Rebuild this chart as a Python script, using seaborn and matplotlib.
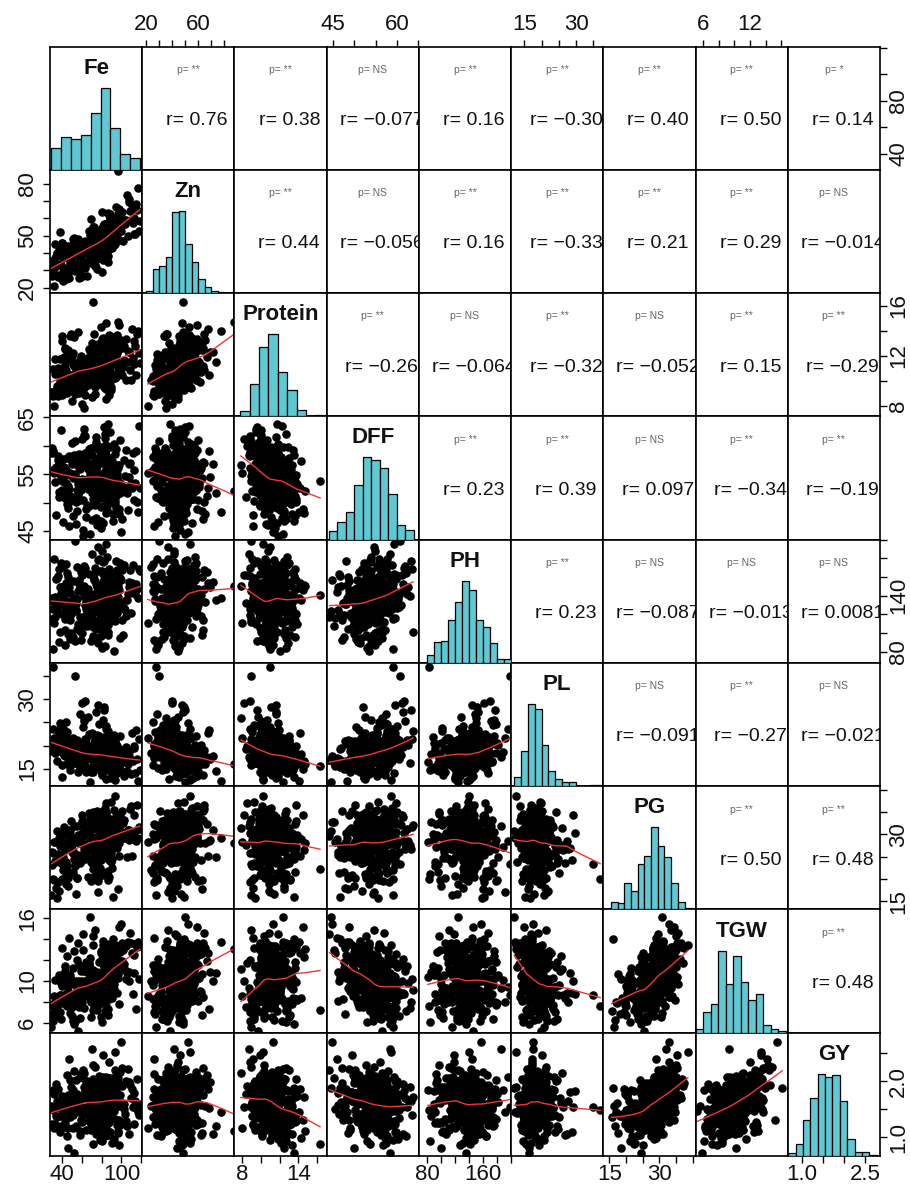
import numpy as np
import pandas as pd
import matplotlib
matplotlib.use("Agg")
import matplotlib.pyplot as plt
import seaborn as sns

plt.rcParams["font.family"] = ["Liberation Sans", "DejaVu Sans"]

# ---------------------------------------------------------------- data
names = ["Fe", "Zn", "Protein", "DFF", "PH", "PL", "PG", "TGW", "GY"]
N_OBS = 300

# histogram bar counts
fe_counts = [20, 30, 28, 32, 51, 75, 38, 14, 11]
zn_counts = [2, 20, 23, 30, 68, 69, 41, 26, 12, 5, 2, 1, 0, 1]
protein_counts = [6, 36, 78, 92, 50, 30, 7, 0, 1]
dff_counts = [6, 13, 20, 40, 60, 58, 52, 33, 11, 7]
ph_counts = [6, 15, 16, 31, 44, 59, 52, 31, 26, 14, 3, 3]
pl_counts = [10, 38, 89, 84, 45, 16, 8, 4, 4, 0, 0, 1, 1]
pg_counts = [6, 5, 20, 14, 35, 41, 63, 49, 40, 20, 6, 1]
tgw_counts = [3, 16, 22, 62, 37, 58, 38, 25, 29, 6, 3, 1]
gy_counts = [2, 8, 25, 40, 57, 55, 56, 38, 12, 3, 3, 1]
hist_counts = [fe_counts, zn_counts, protein_counts, dff_counts, ph_counts,
               pl_counts, pg_counts, tgw_counts, gy_counts]
bin_start = [29, 20, 7.8, 44, 80, 12, 15.5, 5.1, 0.68]
bin_width = [10, 5, 1.0, 2, 10, 2, 2, 0.96, 0.175]

# correlation texts in the upper panels (row by row)
r_fe = ["0.76", "0.38", "-0.077", "0.16", "-0.30", "0.40", "0.50", "0.14"]
r_zn = ["0.44", "-0.056", "0.16", "-0.33", "0.21", "0.29", "-0.014"]
r_protein = ["-0.26", "-0.064", "-0.32", "-0.052", "0.15", "-0.29"]
r_dff = ["0.23", "0.39", "0.097", "-0.34", "-0.19"]
r_ph = ["0.23", "-0.087", "-0.013", "0.0081"]
r_pl = ["-0.091", "-0.27", "-0.021"]
r_pg = ["0.50", "0.48"]
r_tgw = ["0.48"]
r_rows = [r_fe, r_zn, r_protein, r_dff, r_ph, r_pl, r_pg, r_tgw]

p_fe = ["**", "**", "NS", "**", "**", "**", "**", "*"]
p_zn = ["**", "NS", "**", "**", "**", "**", "NS"]
p_protein = ["**", "NS", "**", "NS", "**", "**"]
p_dff = ["**", "**", "NS", "**", "**"]
p_ph = ["**", "NS", "NS", "NS"]
p_pl = ["NS", "**", "NS"]
p_pg = ["**", "**"]
p_tgw = ["**"]
p_rows = [p_fe, p_zn, p_protein, p_dff, p_ph, p_pl, p_pg, p_tgw]

# axis ranges and ticks
axis_lo = [28, 17, 7.2, 43.5, 68, 11.2, 13.2, 5.05, 0.67]
axis_hi = [121, 88, 17.0, 65.2, 200, 37.9, 40.8, 16.85, 2.86]

fe_ticks = [40, 60, 80, 100, 120]
zn_ticks = [20, 30, 40, 50, 60, 70, 80]
protein_ticks = [8, 10, 12, 14, 16]
dff_ticks = [45, 50, 55, 60, 65]
ph_ticks = [80, 100, 120, 140, 160, 180, 200]
pl_ticks = [15, 20, 25, 30, 35]
pg_ticks = [15, 20, 25, 30, 35, 40]
tgw_ticks = [6, 8, 10, 12, 14, 16]
gy_ticks = [1.0, 1.5, 2.0, 2.5]
tick_vals = [fe_ticks, zn_ticks, protein_ticks, dff_ticks, ph_ticks,
             pl_ticks, pg_ticks, tgw_ticks, gy_ticks]

fe_xlab = ["40", "", "", "100", ""]
zn_xlab = ["20", "", "", "", "60", "", ""]
protein_xlab = ["8", "", "", "14", ""]
dff_xlab = ["45", "", "", "60", ""]
ph_xlab = ["80", "", "", "", "160", "", ""]
pl_xlab = ["15", "", "", "30", ""]
pg_xlab = ["15", "", "", "30", "", ""]
tgw_xlab = ["6", "", "", "12", "", ""]
gy_xlab = ["1.0", "", "", "2.5"]
x_labels = [fe_xlab, zn_xlab, protein_xlab, dff_xlab, ph_xlab,
            pl_xlab, pg_xlab, tgw_xlab, gy_xlab]

fe_ylab = ["40", "", "80", "", ""]
zn_ylab = ["20", "", "", "50", "", "", "80"]
protein_ylab = ["8", "", "12", "", "16"]
dff_ylab = ["45", "", "55", "", "65"]
ph_ylab = ["80", "", "", "140", "", "", ""]
pl_ylab = ["15", "", "", "30", ""]
pg_ylab = ["15", "", "", "30", "", ""]
tgw_ylab = ["6", "", "10", "", "", "16"]
gy_ylab = ["1.0", "", "2.0", ""]
y_labels = [fe_ylab, zn_ylab, protein_ylab, dff_ylab, ph_ylab,
            pl_ylab, pg_ylab, tgw_ylab, gy_ylab]

HIST_COLOR = "#5FC8D3"
LINE_COLOR = "#F03535"

# ------------------------------------------- observation reconstruction
# Individual observations are not legible; rebuild them so that each
# variable has exactly the histogram read above and the pairs follow the
# correlations printed in the upper panels (Gaussian copula).
nv = len(names)
R = np.eye(nv)
for i, row in enumerate(r_rows):
    for k, s in enumerate(row):
        j = i + 1 + k
        R[i, j] = R[j, i] = float(s)
ev, evec = np.linalg.eigh(R)
ev = np.clip(ev, 0.02, None)
R_pd = evec @ np.diag(ev) @ evec.T
dd = np.sqrt(np.diag(R_pd))
R_pd = R_pd / np.outer(dd, dd)

rng = np.random.default_rng(7)
Z = rng.standard_normal((N_OBS, nv))
Z = (Z - Z.mean(0)) / Z.std(0)
Lc = np.linalg.cholesky(np.cov(Z, rowvar=False))
Z = Z @ np.linalg.inv(Lc).T @ np.linalg.cholesky(R_pd).T

cols = {}
bin_edges = []
for k, name in enumerate(names):
    cnt = np.asarray(hist_counts[k], float)
    edges = bin_start[k] + bin_width[k] * np.arange(len(cnt) + 1)
    bin_edges.append(edges)
    cdf = np.concatenate([[0.0], np.cumsum(cnt) / cnt.sum()])
    q = (np.arange(N_OBS) + 0.5) / N_OBS
    sorted_vals = np.interp(q, cdf, edges)
    ranks = np.argsort(np.argsort(Z[:, k], kind="mergesort"), kind="mergesort")
    cols[name] = sorted_vals[ranks]
df = pd.DataFrame(cols)


def lowess(x, y, f=2 / 3, iters=3):
    o = np.argsort(x, kind="mergesort")
    x = np.asarray(x, float)[o]
    y = np.asarray(y, float)[o]
    n = len(x)
    r = int(np.ceil(f * n))
    d = np.abs(x[:, None] - x[None, :])
    h = np.maximum(np.sort(d, axis=1)[:, r - 1], 1e-12)
    w = np.clip(d / h[:, None], 0, 1)
    w = (1 - w ** 3) ** 3
    delta = np.ones(n)
    yest = y.copy()
    for _ in range(iters + 1):
        W = w * delta[None, :]
        s0 = W.sum(1)
        s1 = W @ x
        s2 = W @ (x * x)
        t0 = W @ y
        t1 = W @ (x * y)
        det = s0 * s2 - s1 * s1
        b = np.where(np.abs(det) > 1e-12, (s0 * t1 - s1 * t0) / np.where(det == 0, 1, det), 0.0)
        a = (t0 - b * s1) / s0
        yest = a + b * x
        res = y - yest
        s = np.median(np.abs(res))
        if s <= 0:
            break
        u = np.clip(res / (6 * s), -1, 1)
        delta = (1 - u ** 2) ** 2
    return x, yest


def fmt_r(s):
    return s.replace("-", "\u2212")


# ---------------------------------------------------------------- panels
def lower_panel(x, y, **kws):
    ax = plt.gca()
    sns.scatterplot(x=x.values, y=y.values, ax=ax, s=38, color="black",
                    edgecolor=None, linewidth=0, legend=False)
    lx, ly = lowess(x.values, y.values)
    ax.plot(lx, ly, color=LINE_COLOR, lw=1.0)


def upper_panel(x, y, **kws):
    ax = plt.gca()
    i = names.index(y.name)
    j = names.index(x.name)
    ax.text(0.5, 0.81, "p= " + p_rows[i][j - i - 1], transform=ax.transAxes,
            ha="center", va="center", fontsize=7.5, color="#666666")
    ax.text(0.595, 0.40, "r= " + fmt_r(r_rows[i][j - i - 1]),
            transform=ax.transAxes, ha="center", va="center",
            fontsize=14, color="#111111", clip_on=True)


def diag_panel(x, **kws):
    ax = plt.gca()
    k = names.index(x.name)
    sns.histplot(x=x.values, bins=bin_edges[k], stat="count", ax=ax,
                 color=HIST_COLOR, edgecolor="black", linewidth=0.9, alpha=1)
    ax.set_ylim(0, 1.5 * max(hist_counts[k]))
    ax.text(0.5, 0.825, names[k], transform=ax.transAxes, ha="center",
            va="center", fontsize=16, fontweight="bold", color="#111111")


g = sns.PairGrid(df, vars=names, height=1.233, aspect=0.748,
                 despine=False, diag_sharey=False)
g.map_lower(lower_panel)
g.map_upper(upper_panel)
g.map_diag(diag_panel)

fig = g.figure
fig.set_size_inches(9.10, 11.87)
fig.subplots_adjust(left=50 / 910, right=880 / 910, top=1 - 46.5 / 1187,
                    bottom=1 - 1156 / 1187, wspace=0, hspace=0)

for i in range(nv):
    for j in range(nv):
        ax = g.axes[i, j]
        ax.set_xlabel("")
        ax.set_ylabel("")
        for sp in ax.spines.values():
            sp.set_linewidth(1.2)
            sp.set_color("black")
        ax.tick_params(which="both", top=False, bottom=False, left=False,
                       right=False, labelbottom=False, labeltop=False,
                       labelleft=False, labelright=False)

for j in range(nv):
    g.axes[0, j].set_xlim(axis_lo[j], axis_hi[j])
    g.axes[0, j].set_xticks(tick_vals[j], labels=x_labels[j])
for i in range(nv):
    g.axes[i, 0].set_ylim(axis_lo[i], axis_hi[i])
    g.axes[i, 0].set_yticks(tick_vals[i], labels=y_labels[i])

tick_kw = dict(length=5, width=1.0, labelsize=16, color="black",
               labelcolor="#111111")
for j in range(nv):
    if j % 2 == 1:
        g.axes[0, j].tick_params(axis="x", top=True, labeltop=True, pad=3.5,
                                 **tick_kw)
    else:
        g.axes[nv - 1, j].tick_params(axis="x", bottom=True, labelbottom=True,
                                      pad=1.0, **tick_kw)
for i in range(nv):
    if i % 2 == 1:
        ax = g.axes[i, 0]
        ax.tick_params(axis="y", left=True, labelleft=True, pad=3.5,
                       labelrotation=90, **tick_kw)
        for t in ax.yaxis.get_major_ticks():
            t.label1.set_verticalalignment("center")
            t.label1.set_horizontalalignment("right")
    else:
        ax = g.axes[i, nv - 1]
        ax.tick_params(axis="y", right=True, labelright=True, pad=1.0,
                       labelrotation=90, **tick_kw)
        for t in ax.yaxis.get_major_ticks():
            t.label2.set_verticalalignment("center")
            t.label2.set_horizontalalignment("left")

fig.savefig("out.png", dpi=100)
